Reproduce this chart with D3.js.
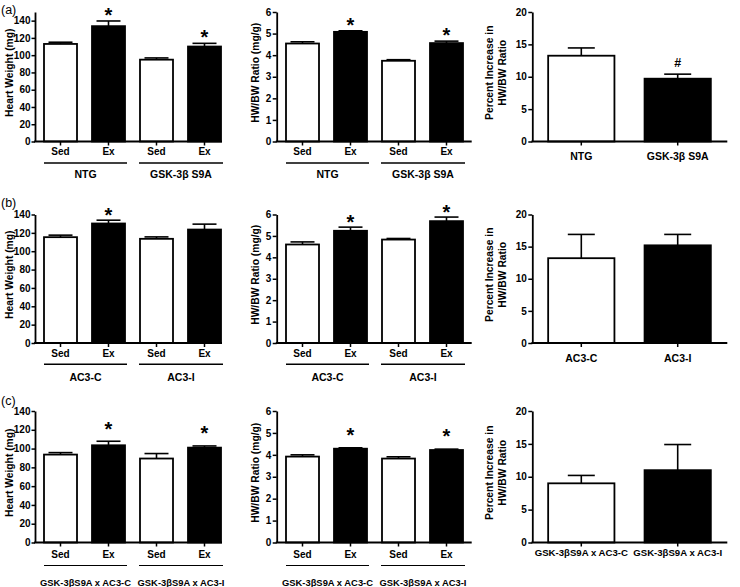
<!DOCTYPE html>
<html><head><meta charset="utf-8">
<script src="https://cdn.jsdelivr.net/npm/d3@7"></script>
<style>
body{margin:0;background:#fff;}
svg{display:block;font-family:"Liberation Sans",Arial,sans-serif;}
</style></head>
<body>
<svg id="chart" width="740" height="587"></svg>
<script>
// ---------------- DATA ----------------
const panelLetters = ["(a)", "(b)", "(c)"];
const barCategories = ["Sed", "Ex", "Sed", "Ex"];
const groupsA = ["NTG", "GSK-3β S9A"];
const groupsB = ["AC3-C", "AC3-I"];
const groupsC = ["GSK-3βS9A x AC3-C", "GSK-3βS9A x AC3-I"];

const heartWeightTicks = [0, 20, 40, 60, 80, 100, 120, 140];
const ratioTicks = [0, 1, 2, 3, 4, 5, 6];
const percentTicks = [0, 5, 10, 15, 20];

// row (a)
const hwA = [113, 133.6, 94.8, 110];
const hwAErr = [2, 6, 2, 3.7];
const hwASig = ["", "*", "", "*"];
const ratioA = [4.54, 5.08, 3.74, 4.56];
const ratioAErr = [0.08, 0.05, 0.05, 0.09];
const ratioASig = ["", "*", "", "*"];
const pctA = [13.25, 9.7];
const pctAErr = [1.2, 0.7];
const pctASig = ["", "#"];

// row (b)
const hwB = [115.3, 130.2, 113.5, 123.6];
const hwBErr = [2.2, 3.6, 2.1, 5.9];
const hwBSig = ["", "*", "", ""];
const ratioB = [4.6, 5.24, 4.83, 5.69];
const ratioBErr = [0.12, 0.17, 0.05, 0.19];
const ratioBSig = ["", "*", "", "*"];
const pctB = [13.2, 15.2];
const pctBErr = [3.7, 1.7];
const pctBSig = ["", ""];

// row (c)
const hwC = [93.6, 103.5, 89.4, 101];
const hwCErr = [2.1, 4.3, 5.3, 1.8];
const hwCSig = ["", "*", "", "*"];
const ratioC = [3.92, 4.28, 3.83, 4.22];
const ratioCErr = [0.08, 0.04, 0.08, 0.04];
const ratioCSig = ["", "*", "", "*"];
const pctC = [9.0, 11.0];
const pctCErr = [1.2, 3.9];
const pctCSig = ["", ""];

// ---------------- LAYOUT ----------------
const svg = d3.select("#chart");
const FONT = "Liberation Sans, Arial, sans-serif";

const cols = [
  {axisX0: 35, axisX1: 222, band: [36.5, 228.5], titleX: 9.5, tick: 3.5, pad: 1},
  {axisX0: 276.7, axisX1: 471.7, band: [278.5, 470.5], titleX: 255.5, tick: 4, pad: 1.5},
  {axisX0: 532.3, axisX1: 727.3, band: [533.1, 725.9], titleX: 496, tick: 4, pad: 1.5}
];
const rows = [
  {y0: 141.5, top: 12, tickLab: 154.5, gLine: 163, gLab: 178.3, rLab: 160, starOff: 10, letterY: 13.5, gFont: 10.5},
  {y0: 343, top: 214.5, tickLab: 356.5, gLine: 364.3, gLab: 380.7, rLab: 362.3, starOff: 8.5, letterY: 207, gFont: 10.5},
  {y0: 542.5, top: 411, tickLab: 558.3, gLine: 565.5, gLab: 586.3, rLab: 556.3, starOff: 16.5, letterY: 404.5, gFont: 9.4}
];

function drawPanel(col, row, opts) {
  const g = svg.append("g");
  const y = d3.scaleLinear().domain([0, opts.max]).range([row.y0, row.top]);
  const n = opts.values.length;
  const x = d3.scaleBand().domain(d3.range(n)).range(col.band)
      .paddingInner(0.3125).paddingOuter(0.15625);

  // bars
  g.selectAll("rect.bar").data(opts.values).join("rect")
    .attr("x", (d, i) => x(i))
    .attr("y", d => y(d))
    .attr("width", x.bandwidth())
    .attr("height", d => y(0) - y(d))
    .attr("fill", (d, i) => i % 2 === 0 ? "#fff" : "#000")
    .attr("stroke", "#000").attr("stroke-width", 1.8);

  // error bars (upper only)
  const cap = opts.cap;
  opts.values.forEach((v, i) => {
    const cx = x(i) + x.bandwidth() / 2;
    const yt = y(v + opts.errors[i]);
    g.append("line").attr("x1", cx).attr("x2", cx).attr("y1", y(v)).attr("y2", yt)
      .attr("stroke", "#000").attr("stroke-width", 1.6);
    g.append("line").attr("x1", cx - cap / 2).attr("x2", cx + cap / 2).attr("y1", yt).attr("y2", yt)
      .attr("stroke", "#000").attr("stroke-width", 1.6);
    const s = opts.sig[i];
    if (s) {
      const cy = yt - (s === "#" ? 11.5 : row.starOff);
      g.append("text").attr("x", cx).attr("y", s === "#" ? cy + 4.5 : cy + 10.8)
        .attr("text-anchor", "middle")
        .attr("font-family", FONT).attr("font-weight", "bold")
        .attr("font-size", s === "#" ? 12.5 : 20).text(s);
    }
  });

  // y axis
  const ya = g.append("g").attr("transform", `translate(${col.axisX0},0)`)
    .call(d3.axisLeft(y).tickValues(opts.ticks).tickFormat(d3.format("d"))
      .tickSize(col.tick).tickSizeOuter(0).tickPadding(col.pad));
  ya.select(".domain").attr("stroke-width", 1.8);
  ya.selectAll(".tick line").attr("stroke-width", 1.5);
  ya.selectAll(".tick text").attr("font-family", FONT).attr("font-weight", "bold")
    .attr("font-size", 10).attr("fill", "#000");

  // x axis line
  g.append("line").attr("x1", col.axisX0 - 0.9).attr("x2", col.axisX1).attr("y1", row.y0).attr("y2", row.y0)
    .attr("stroke", "#000").attr("stroke-width", 1.8);
  const xa = g.append("g").attr("transform", `translate(0,${row.y0})`)
    .call(d3.axisBottom(x).tickSize(4).tickFormat(i => opts.labels ? opts.labels[i] : ""));
  xa.select(".domain").remove();
  xa.selectAll(".tick line").attr("stroke-width", 1.5);
  xa.selectAll(".tick text").attr("font-family", FONT).attr("font-weight", "bold")
    .attr("font-size", opts.labelFont || 10).attr("fill", "#000")
    .attr("dy", 0).attr("y", opts.labelY - row.y0);

  // group underline + labels
  if (opts.groups) {
    opts.groups.forEach((gl, k) => {
      const i0 = k * 2, i1 = k * 2 + 1;
      const xl = x(i0) - (k === 0 ? 0 : 1), xr = x(i1) + x.bandwidth() + 2;
      g.append("line").attr("x1", xl).attr("x2", xr).attr("y1", row.gLine).attr("y2", row.gLine)
        .attr("stroke", "#000").attr("stroke-width", row.gFont < 10 ? 1.2 : 1.6);
      g.append("text").attr("x", (xl + xr) / 2).attr("y", row.gLab).attr("text-anchor", "middle")
        .attr("font-family", FONT).attr("font-weight", "bold").attr("font-size", row.gFont).text(gl);
    });
  }

  // y title
  const cy = (row.y0 + row.top) / 2 - 4;
  const t = g.append("text").attr("transform", `translate(${col.titleX},${cy}) rotate(-90)`)
    .attr("text-anchor", "middle").attr("font-family", FONT).attr("font-weight", "bold")
    .attr("font-size", 10.3);
  opts.title.forEach((line, k) => {
    t.append("tspan").attr("x", 0).attr("dy", k === 0 ? (opts.title.length > 1 ? "-0.25em" : "0.35em") : "1.2em").text(line);
  });
}

const groupSets = [groupsA, groupsB, groupsC];
const hwSets = [[hwA, hwAErr, hwASig], [hwB, hwBErr, hwBSig], [hwC, hwCErr, hwCSig]];
const ratioSets = [[ratioA, ratioAErr, ratioASig], [ratioB, ratioBErr, ratioBSig], [ratioC, ratioCErr, ratioCSig]];
const pctSets = [[pctA, pctAErr, pctASig], [pctB, pctBErr, pctBSig], [pctC, pctCErr, pctCSig]];
const hwMax = [150, 140, 140];

rows.forEach((row, r) => {
  drawPanel(cols[0], row, {
    max: hwMax[r], ticks: heartWeightTicks, values: hwSets[r][0], errors: hwSets[r][1], sig: hwSets[r][2],
    labels: barCategories, labelY: row.tickLab, groups: groupSets[r], cap: 24,
    title: ["Heart Weight (mg)"]
  });
  drawPanel(cols[1], row, {
    max: 6, ticks: ratioTicks, values: ratioSets[r][0], errors: ratioSets[r][1], sig: ratioSets[r][2],
    labels: barCategories, labelY: row.tickLab, groups: groupSets[r], cap: 24,
    title: ["HW/BW Ratio (mg/g)"]
  });
  drawPanel(cols[2], row, {
    max: 20, ticks: percentTicks, values: pctSets[r][0], errors: pctSets[r][1], sig: pctSets[r][2],
    labels: groupSets[r], labelY: row.rLab, labelFont: r === 2 ? 9.6 : 10.5, cap: 27,
    title: ["Percent Increase in", "HW/BW Ratio"]
  });
  svg.append("text").attr("x", 1).attr("y", row.letterY).attr("font-family", FONT)
    .attr("font-size", 12.5).text(panelLetters[r]);
});
</script>
</body></html>
